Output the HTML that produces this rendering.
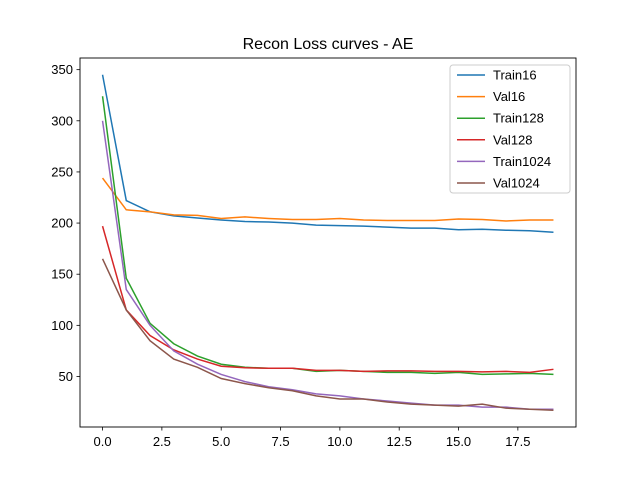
<!DOCTYPE html>
<html><head><meta charset="utf-8"><style>body{margin:0;background:#fff}svg{font-family:"Liberation Sans","DejaVu Sans",sans-serif}</style></head>
<body>
<svg id="chart" width="640" height="480">
<rect width="640" height="480" fill="#fff"/>
<text x="328" y="49" text-anchor="middle" font-size="16">Recon Loss curves - AE</text>
<g id="axes"></g><g id="lines"></g><g id="legend"></g>
<rect x="80" y="58" width="496" height="369" fill="none" stroke="#000" stroke-width="0.9"/>
</svg>
<script>
const epochs=[0,1,2,3,4,5,6,7,8,9,10,11,12,13,14,15,16,17,18,19];
const seriesNames=["Train16","Val16","Train128","Val128","Train1024","Val1024"];
const colors=["#1f77b4","#ff7f0e","#2ca02c","#d62728","#9467bd","#8c564b"];
const train16=[345,222,211,207,205,203,201.5,201,200,198,197.5,197,196,195,195,193.5,194,193,192.5,191];
const val16=[244,213,211,208,207.5,204.5,206,204.5,203.5,203.5,204.5,203,202.5,202.5,202.5,204,203.5,202,203,203];
const train128=[324,146,102,82,70,62,59,58,58,55,56,55,54,54,53,54,52,52.5,53,52];
const val128=[197,115,90,76,67,60,58.5,58,58,56,56,55,55.5,55.5,55,55,54.5,55,54,57];
const train1024=[300,135,100,75,62,52,45,40,37,33,31,28,26,24,22,22,20,20,18,18];
const val1024=[165,115,85,67,59,48,43,39,36,31,28,28,25,23,22,21,23,19,18,17];
const xTicks=[0,2.5,5,7.5,10,12.5,15,17.5];
const xTickLabels=["0.0","2.5","5.0","7.5","10.0","12.5","15.0","17.5"];
const yTicks=[50,100,150,200,250,300,350];
const all=[train16,val16,train128,val128,train1024,val1024];
const NS="http://www.w3.org/2000/svg";
const L=80,R=576,T=58,B=427;
const xmin=-0.95,xmax=19.95;
const flat=all.flat();const dmin=Math.min(...flat),dmax=Math.max(...flat);
const ymin=dmin-0.05*(dmax-dmin),ymax=dmax+0.05*(dmax-dmin);
const xs=v=>L+(v-xmin)/(xmax-xmin)*(R-L);
const ys=v=>B-(v-ymin)/(ymax-ymin)*(B-T);
function mk(tag,attrs,parent){const e=document.createElementNS(NS,tag);for(const k in attrs)e.setAttribute(k,attrs[k]);parent.appendChild(e);return e;}
const ax=document.getElementById('axes');
xTicks.forEach((t,i)=>{const x=xs(t);
const l=mk('line',{x1:x,x2:x,y1:B,y2:B+3.5,stroke:'#000','stroke-width':0.8},ax);


const tx=mk('text',{x:x,y:B+19,'text-anchor':'middle','font-size':13},ax);tx.textContent=xTickLabels[i];

});
yTicks.forEach(t=>{const y=ys(t);
const l=mk('line',{x1:L-3.5,x2:L,y1:y,y2:y,stroke:'#000','stroke-width':0.8},ax);


const tx=mk('text',{x:L-7,y:y+4.5,'text-anchor':'end','font-size':13},ax);tx.textContent=t;

});
const lg=document.getElementById('lines');
all.forEach((s,i)=>{const p=mk('polyline',{points:s.map((v,j)=>xs(epochs[j])+','+ys(v)).join(' '),fill:'none',stroke:colors[i],'stroke-width':1.5},lg);

});
const leg=document.getElementById('legend');
const box=mk('rect',{x:450,y:65,width:120,height:128,rx:3,fill:'#fff','fill-opacity':0.8,stroke:'#ccc'},leg);


seriesNames.forEach((n,i)=>{const y=75+i*21.6;
const l=mk('line',{x1:457,x2:485,y1:y,y2:y,stroke:colors[i],'stroke-width':1.5},leg);


const t=mk('text',{x:493,y:y+4.5,'font-size':13},leg);t.textContent=n;

});
</script>
</body></html>
